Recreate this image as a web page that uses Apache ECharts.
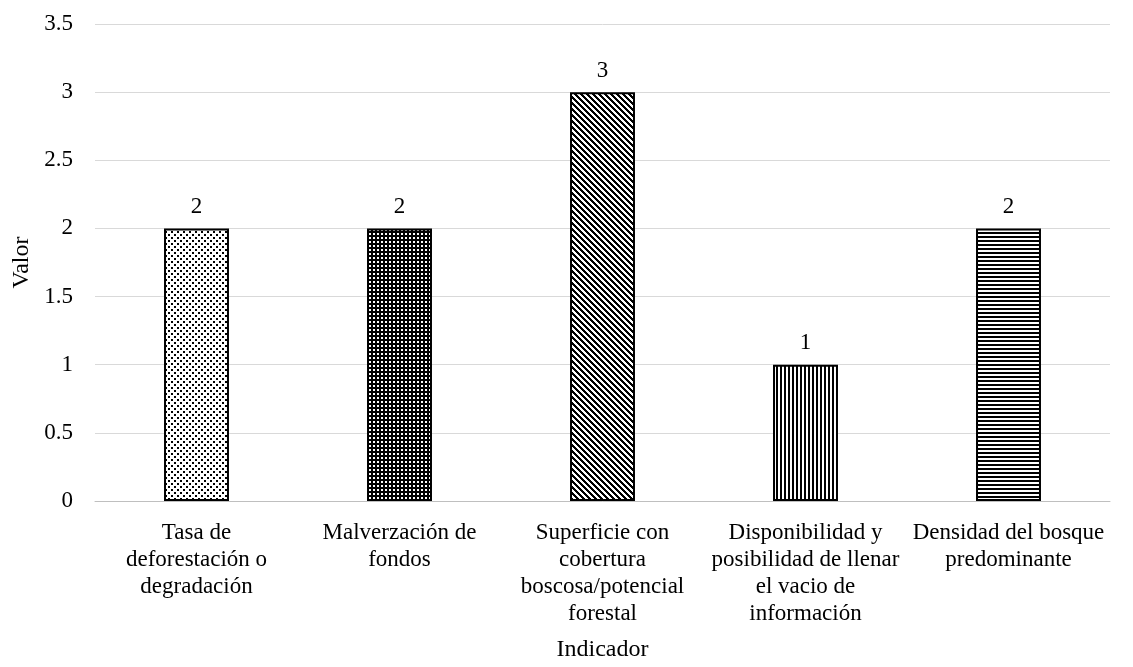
<!DOCTYPE html>
<html>
<head>
<meta charset="utf-8">
<script src="https://cdn.jsdelivr.net/npm/echarts@6/dist/echarts.min.js"></script>
<style>
  html, body { margin: 0; padding: 0; background: #fff; }
  #chart { width: 1133px; height: 667px; }
</style>
</head>
<body>
<div id="chart"></div>
<script>
var categories = [
  "Tasa de\ndeforestación o\ndegradación",
  "Malverzación de\nfondos",
  "Superficie con\ncobertura\nboscosa/potencial\nforestal",
  "Disponibilidad y\nposibilidad de llenar\nel vacio de\ninformación",
  "Densidad del bosque\npredominante"
];
var values = [2, 2, 3, 1, 2];
var yTicks = [0, 0.5, 1, 1.5, 2, 2.5, 3, 3.5];

// little canvas tiles used as fill patterns
function tile(w, h, draw) {
  var c = document.createElement("canvas");
  c.width = w; c.height = h;
  var ctx = c.getContext("2d");
  ctx.fillStyle = "#fff";
  ctx.fillRect(0, 0, w, h);
  ctx.fillStyle = "#000";
  draw(ctx);
  return { image: c, repeat: "repeat" };
}
var patterns = [
  // sparse dots
  tile(6, 6, function (ctx) {
    ctx.fillRect(0, 0, 2, 2);
    ctx.fillRect(3, 3, 2, 2);
  }),
  // dark with small white holes
  tile(4, 4, function (ctx) {
    ctx.fillRect(0, 0, 4, 4);
    ctx.fillStyle = "#fff";
    ctx.fillRect(1, 1, 2, 2);
  }),
  // wide diagonal stripes
  tile(6, 6, function (ctx) {
    for (var i = 0; i < 6; i++) {
      for (var k = 0; k < 3; k++) {
        ctx.fillRect((i + k) % 6, i, 1, 1);
      }
    }
  }),
  // vertical stripes
  tile(4, 4, function (ctx) {
    ctx.fillRect(0, 0, 2, 4);
  }),
  // horizontal stripes
  tile(4, 4, function (ctx) {
    ctx.fillRect(0, 0, 4, 2);
  })
];

var chart = echarts.init(document.getElementById("chart"));
var font = "Liberation Serif";
chart.setOption({
  animation: false,
  textStyle: { fontFamily: font, color: "#000" },
  grid: { left: 95, right: 23, top: 24, bottom: 159 },
  xAxis: {
    type: "category",
    data: categories,
    name: "Indicador",
    nameLocation: "middle",
    nameGap: 137,
    nameTextStyle: { fontFamily: font, fontSize: 24, color: "#000" },
    axisLine: { lineStyle: { color: "#bfbfbf", width: 1 } },
    axisTick: { show: false },
    axisLabel: {
      interval: 0,
      fontFamily: font,
      fontSize: 23,
      color: "#000",
      lineHeight: 27,
      margin: 18
    }
  },
  yAxis: {
    type: "value",
    min: 0,
    max: 3.5,
    interval: 0.5,
    name: "Valor",
    nameLocation: "middle",
    nameGap: 60,
    nameRotate: 90,
    nameTextStyle: { fontFamily: font, fontSize: 24, color: "#000" },
    axisLine: { show: false },
    axisTick: { show: false },
    splitLine: { lineStyle: { color: "#d9d9d9", width: 1 } },
    axisLabel: {
      fontFamily: font,
      fontSize: 23,
      color: "#000",
      margin: 22,
      formatter: function (v) { return yTicks.indexOf(v) >= 0 ? String(v) : ""; }
    }
  },
  series: [{
    type: "bar",
    barWidth: "32%",
    data: values.map(function (v, i) {
      return { value: v, itemStyle: { color: patterns[i] } };
    }),
    itemStyle: { borderColor: "#000", borderWidth: 2 },
    label: {
      show: true,
      position: "top",
      distance: 10,
      fontFamily: font,
      fontSize: 23,
      color: "#000"
    }
  }]
});
</script>
</body>
</html>
